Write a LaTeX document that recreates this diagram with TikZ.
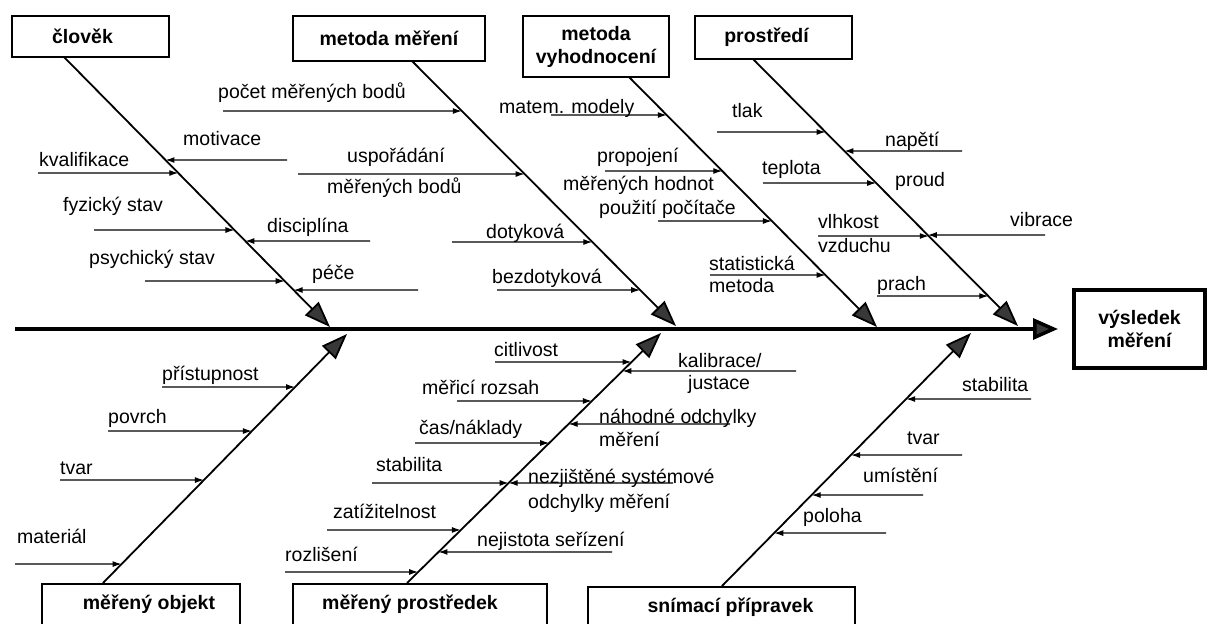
\documentclass[tikz,border=0pt]{standalone}
\usepackage{fontspec}
\setmainfont{Liberation Sans}
\usetikzlibrary{arrows.meta}
\newcommand\fishrib[4]{%
  \coordinate (#1s) at (#2,#3);
  \coordinate (#1t) at (0,#3);
  \draw[rib] (#1s) -- (intersection of #1s--#1t and #4s--#4e);
}
\tikzset{
  lbl/.style={anchor=west, inner sep=0pt, font=\fontsize{19.5}{22}\selectfont, text height=15pt, text depth=3pt},
  cbox/.style={draw, line width=1.8pt, inner sep=2pt, font=\fontsize{19.5}{23}\selectfont\bfseries, align=center},
  botbox/.style={cbox, anchor=north, inner ysep=0pt, text height=26pt, text depth=34pt},
  bone/.style={line width=1.8pt, -{Triangle[length=26pt,width=19pt,fill=black!78]}},
  rib/.style={line width=1.2pt, -{Latex[length=9pt,width=6pt]}},
  spine/.style={line width=3.5pt, -{Triangle[length=25pt,width=21pt,fill=black!78]}}
}
\begin{document}
\begin{tikzpicture}[x=1pt,y=-1pt]
\useasboundingbox (0,0) rectangle (1208,624);
\clip (0,0) rectangle (1208,624);
\fill[white] (0,0) rectangle (1208,624);

% boxes
\node[cbox, minimum width=157pt, minimum height=41pt] (clovek) at (90.5,36.5) {\hspace*{-16pt}člověk};
\node[cbox, minimum width=192pt, minimum height=45pt] (metm) at (389,38.5) {metoda měření};
\node[cbox, minimum width=146pt, minimum height=61pt] (metv) at (596,46.5) {metoda\\vyhodnocení};
\node[cbox, minimum width=157pt, minimum height=43pt] (prostr) at (773.5,37.5) {\hspace*{-14pt}prostředí};
\node[cbox, line width=4pt, minimum width=131pt, minimum height=78pt] (vysl) at (1139.5,329) {výsledek\\měření};
\node[botbox, minimum width=198pt] (objekt) at (141,583) {\hspace*{16pt}měřený objekt};
\node[botbox, minimum width=254pt] (prostredek) at (420,583) {\hspace*{-20pt}měřený prostředek};
\node[botbox, minimum width=267pt] (snimaci) at (721.5,586) {\hspace*{18pt}snímací přípravek};

% spine
\coordinate (sp0) at (15,329);
\draw[spine, shorten >=14pt] (sp0) -- (vysl.west);

% bones
\coordinate (As) at (64,57);   \coordinate (Ae) at (330,327);
\coordinate (Bs) at (412,61);  \coordinate (Be) at (676,326);
\coordinate (Cs) at (629,77);  \coordinate (Ce) at (877,327);
\coordinate (Ds) at (753,59);  \coordinate (De) at (1018,326);
\coordinate (Es) at (103,583); \coordinate (Ee) at (347,334);
\coordinate (Fs) at (407,583); \coordinate (Fe) at (661,333);
\coordinate (Gs) at (722,586); \coordinate (Ge) at (971,333);
\foreach \b in {A,B,C,D,E,F,G} {\draw[bone] (\b s) -- (\b e);}

% clovek
\fishrib{a1}{38}{173}{A}
\fishrib{a2}{287}{160}{A}
\fishrib{a3}{94}{230}{A}
\fishrib{a4}{370}{241}{A}
\fishrib{a5}{145}{281}{A}
\fishrib{a6}{418}{290}{A}
\node[lbl] (la1) at (39,160) {kvalifikace};
\node[lbl] (la2) at (183,139) {motivace};
\node[lbl] (la3) at (63,205) {fyzický stav};
\node[lbl] (la4) at (267,226) {disciplína};
\node[lbl] (la5) at (89,258) {psychický stav};
\node[lbl] (la6) at (312,273) {péče};

% metoda mereni
\fishrib{b1}{223}{111}{B}
\fishrib{b2}{298}{174}{B}
\fishrib{b3}{452}{242}{B}
\fishrib{b4}{497}{290}{B}
\node[lbl] (lb1) at (218,92) {počet měřených bodů};
\node[lbl] (lb2) at (347,156) {uspořádání};
\node[lbl] (lb2b) at (327,187) {měřených bodů};
\node[lbl] (lb3) at (486,232) {dotyková};
\node[lbl] (lb4) at (492,277) {bezdotyková};

% metoda vyhodnoceni
\fishrib{c1}{551}{115}{C}
\fishrib{c2}{605}{171}{C}
\fishrib{c3}{658}{221}{C}
\fishrib{c4}{710}{275}{C}
\node[lbl] (lc1) at (499,107) {matem. modely};
\node[lbl] (lc2) at (597,156) {propojení};
\node[lbl] (lc2b) at (563,184) {měřených hodnot};
\node[lbl] (lc3) at (599,208) {použití počítače};
\node[lbl] (lc4) at (709,264) {statistická};
\node[lbl] (lc4b) at (709,286) {metoda};

% prostredi
\fishrib{d1}{717}{132}{D}
\fishrib{d2}{962}{151}{D}
\fishrib{d3}{763}{183}{D}
\fishrib{d4}{818}{236}{D}
\fishrib{d5}{1045}{235}{D}
\fishrib{d6}{877}{296}{D}
\node[lbl] (ld1) at (732,111) {tlak};
\node[lbl] (ld2) at (885,140) {napětí};
\node[lbl] (ld3) at (762,168) {teplota};
\node[lbl] (ld3b) at (895,180) {proud};
\node[lbl] (ld4) at (818,222) {vlhkost};
\node[lbl] (ld4b) at (818,246) {vzduchu};
\node[lbl] (ld5) at (1010,220) {vibrace};
\node[lbl] (ld6) at (877,284) {prach};

% mereny objekt
\fishrib{e1}{162}{387}{E}
\fishrib{e2}{108}{431}{E}
\fishrib{e3}{60}{480}{E}
\fishrib{e4}{15}{564}{E}
\node[lbl] (le1) at (162,374) {přístupnost};
\node[lbl] (le2) at (108,417) {povrch};
\node[lbl] (le3) at (60,468) {tvar};
\node[lbl] (le4) at (17,537) {materiál};

% mereny prostredek
\fishrib{f1}{495}{362}{F}
\fishrib{f2}{796}{371}{F}
\fishrib{f3}{457}{401}{F}
\fishrib{f4}{730}{424}{F}
\fishrib{f5}{415}{443}{F}
\fishrib{f6}{372}{483}{F}
\fishrib{f7}{673}{483}{F}
\fishrib{f8}{327}{530}{F}
\fishrib{f9}{612}{552}{F}
\fishrib{f10}{285}{572}{F}
\node[lbl] (lf1) at (494,350) {citlivost};
\node[lbl] (lf2) at (678,361) {kalibrace/};
\node[lbl] (lf2b) at (688,383) {justace};
\node[lbl] (lf3) at (422,388) {měřicí rozsah};
\node[lbl] (lf4) at (599,417) {náhodné odchylky};
\node[lbl] (lf4b) at (599,440) {měření};
\node[lbl] (lf5) at (419,428) {čas/náklady};
\node[lbl] (lf6) at (376,465) {stabilita};
\node[lbl] (lf7) at (528,477) {nezjištěné systémové};
\node[lbl] (lf7b) at (528,502) {odchylky měření};
\node[lbl] (lf8) at (333,512) {zatížitelnost};
\node[lbl] (lf9) at (477,540) {nejistota seřízení};
\node[lbl] (lf10) at (285,555) {rozlišení};

% snimaci pripravek
\fishrib{g1}{1031}{399}{G}
\fishrib{g2}{962}{455}{G}
\fishrib{g3}{923}{495}{G}
\fishrib{g4}{886}{533}{G}
\node[lbl] (lg1) at (962,385) {stabilita};
\node[lbl] (lg2) at (907,438) {tvar};
\node[lbl] (lg3) at (863,476) {umístění};
\node[lbl] (lg4) at (803,516) {poloha};
\end{tikzpicture}
\end{document}
